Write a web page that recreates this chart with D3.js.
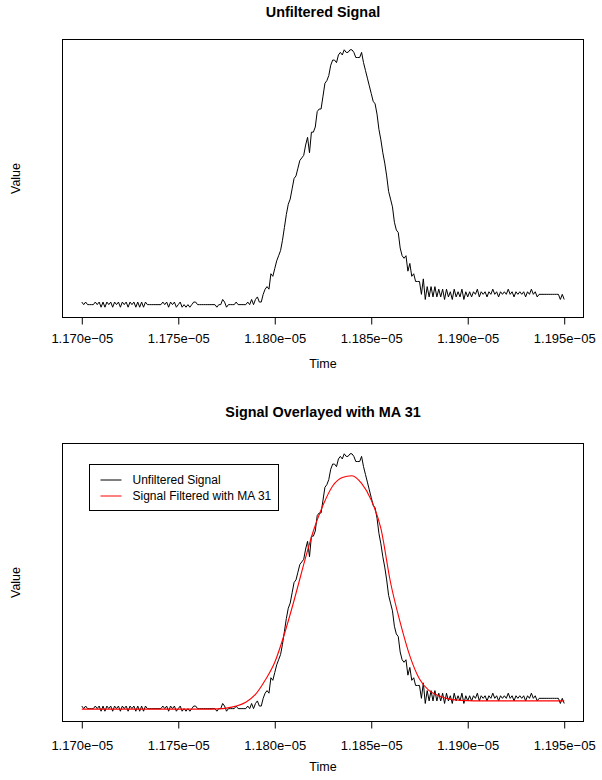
<!DOCTYPE html>
<html>
<head>
<meta charset="utf-8">
<script src="https://cdn.jsdelivr.net/npm/d3@7"></script>
<style>
	body { margin: 0; background: #fff; }
	svg text { font-family: "Liberation Sans", Arial, Helvetica, sans-serif; }
</style>
</head>
<body>
<svg width="602" height="780"></svg>
<script>
'use strict';
// sample times: 1 ns spacing from the first sample
let dT0 = 1.170e-5, dStep = 1e-9

// raw signal, one value per ns (arbitrary units)
let aSignal = [
	2,1,2,1,1,1,1,
	2,1,2,0,2,0,2,1,2,0,2,1,2,0,2,1,2,0,2,1,2,0,2,0,
	2,0,2,1, 1,1,1,1,1,1, 1,2,1,
	2,0,2,1,2,0,1,2, 0,1,0,1,0,1,2,
	2,1,1,1,1,1,1,1,1,1,
	1,0,1,1,3,2,0,1,1,1,1,2,1,1,1,1,
	1,2,1,3,1,3,4,2,2,5,7,8,7,13,12,
	15,18,20,22,26,31,36,40,42,46,50,51,54,57,58,59,
	63,66,60,68,68,70,76,77,77,82,87,88,90,94,96,
	96,95,98,99,98,100,99,99,100,100,99,97,97,97,99,
	95,92,89,86,83,80,79,75,69,65,60,56,51,45,42,
	39,33,30,29,23,20,19,20,14,17,12,13,10,10,10,5,11,
	3,8,4,8,4,8,4,7,
	4,7,3,7,4,6,3,7,4,6,4,7,3,6,4,
	6,4,6,5,7,4,6,5,6,4,6,5,7,5,6,
	4,6,5,6,5,7,5,6,4,6,5,6,5,6,4,6,5,7,5,6,4,5,
	5,5,5,5,5,5,5,5,5,5,
	3,5,3]

// MA 31 output, read every 5 ns
let aMA = [
	0.8,0.8,0.8,0.8,0.8,0.8,0.8,0.8,0.8,0.8,0.8,0.8,0.8,0.8,0.9,
	1.2,2.0,3.5,6.5,12,19,30,43,57,70,80,87.5,90.8,91.5,88.5,82,
	71,50,34.5,21.5,12.5,8,6,4.8,4.3,4.1,
	4,4,4,4,4,4,4,4,4,4]
let iMAStep = 5

let aTicks = [1.170e-5, 1.175e-5, 1.180e-5, 1.185e-5, 1.190e-5, 1.195e-5]
let aTickLabels = ["1.170e\u221205", "1.175e\u221205", "1.180e\u221205",
	"1.185e\u221205", "1.190e\u221205", "1.195e\u221205"]

let aLegend = [
	{label: "Unfiltered Signal", color: "#000"},
	{label: "Signal Filtered with MA 31", color: "#ff0000"}]

let aPanels = [
	{title: "Unfiltered Signal", top: 39.5, bottom: 317.5, titleY: 17, tickY: 342.5, labY: 368, ma: false},
	{title: "Signal Overlayed with MA 31", top: 443.5, bottom: 721.5, titleY: 417, tickY: 749.5, labY: 771, ma: true}]

let eSvg = d3.select("svg")
let dLeft = 62.5, dRight = 583.5

let tSig = aSignal.map((v, i) => ({t: dT0 + i*dStep, v: v}))
let tMA = aMA.map((v, i) => ({t: dT0 + i*iMAStep*dStep, v: v}))

// R style 4% padding on both axes
function padded(ext) {
	let r = ext[1] - ext[0]
	return [ext[0] - 0.04*r, ext[1] + 0.04*r]}

let x = d3.scaleLinear()
	.domain(padded(d3.extent(tSig, d => d.t)))
	.range([dLeft, dRight])

eSvg.append("rect").attr("width", 602).attr("height", 780).attr("fill", "#fff")

aPanels.forEach(p => {
	let y = d3.scaleLinear()
		.domain(padded(d3.extent(tSig, d => d.v)))
		.range([p.bottom, p.top])
	let line = d3.line().x(d => x(d.t)).y(d => y(d.v))
	let g = eSvg.append("g")

	g.append("path")
		.datum(tSig)
		.attr("d", line)
		.attr("fill", "none")
		.attr("stroke", "#000")
		.attr("stroke-width", 1)

	if (p.ma) {
		g.append("path")
			.datum(tMA)
			.attr("d", line.curve(d3.curveMonotoneX))
			.attr("fill", "none")
			.attr("stroke", "#ff0000")
			.attr("stroke-width", 1.1)}

	// box
	g.append("rect")
		.attr("x", dLeft).attr("y", p.top)
		.attr("width", dRight - dLeft).attr("height", p.bottom - p.top)
		.attr("fill", "none").attr("stroke", "#000")

	// x axis, ticks hang below the box
	let ax = g.append("g")
		.attr("transform", `translate(0,${p.bottom})`)
		.call(d3.axisBottom(x).tickValues(aTicks).tickSize(7).tickSizeOuter(0)
			.tickFormat((d, i) => aTickLabels[i]))
	ax.select(".domain").attr("d", `M${x(aTicks[0])},0H${x(aTicks[aTicks.length-1])}`)
	ax.selectAll("text")
		.attr("y", null).attr("dy", null)
		.attr("transform", `translate(0,${p.tickY - p.bottom})`)
		.attr("font-size", 13).attr("fill", "#000")
	ax.attr("font-family", null)

	g.append("text")
		.attr("x", (dLeft + dRight)/2).attr("y", p.titleY)
		.attr("text-anchor", "middle")
		.attr("font-size", 14.4).attr("font-weight", "bold")
		.text(p.title)

	g.append("text")
		.attr("x", (dLeft + dRight)/2).attr("y", p.labY)
		.attr("text-anchor", "middle").attr("font-size", 12.5)
		.text("Time")

	g.append("text")
		.attr("transform", `translate(19.5,${(p.top + p.bottom)/2}) rotate(-90)`)
		.attr("text-anchor", "middle").attr("font-size", 12.5)
		.text("Value")

	if (p.ma) {
		let eLeg = g.append("g").attr("transform", "translate(89.5,464.5)")
		eLeg.append("rect")
			.attr("width", 189).attr("height", 46)
			.attr("fill", "#fff").attr("stroke", "#000")
		eLeg.selectAll("line").data(aLegend).join("line")
			.attr("x1", 11).attr("x2", 32)
			.attr("y1", (d, i) => 15.5 + i*16).attr("y2", (d, i) => 15.5 + i*16)
			.attr("stroke", d => d.color)
		eLeg.selectAll("text").data(aLegend).join("text")
			.attr("x", 43).attr("y", (d, i) => 19.8 + i*16)
			.attr("font-size", 12)
			.text(d => d.label)}
})
</script>
</body>
</html>
